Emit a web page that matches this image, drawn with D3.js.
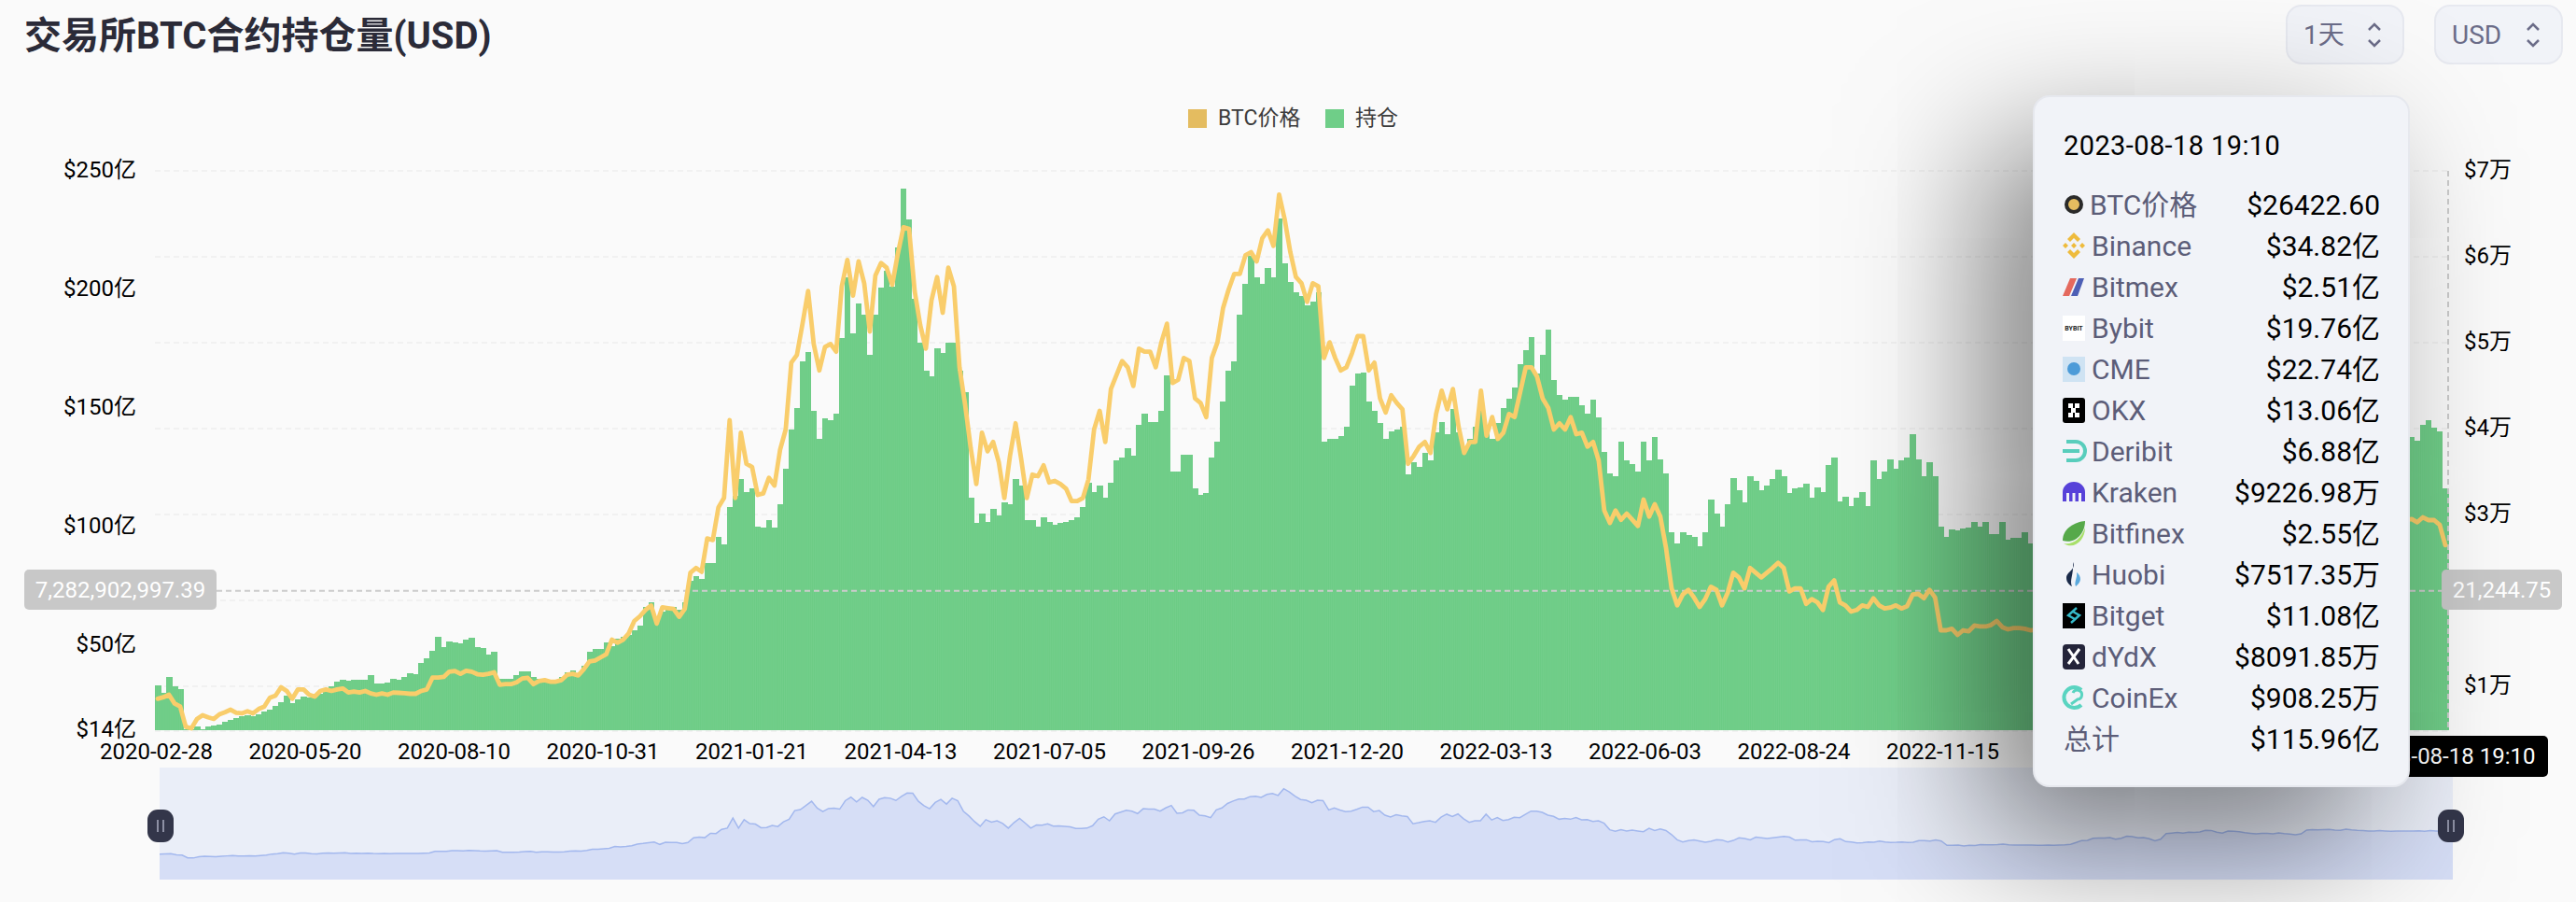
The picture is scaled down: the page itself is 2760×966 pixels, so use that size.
<!DOCTYPE html>
<html>
<head>
<meta charset="utf-8">
<script src="https://cdn.jsdelivr.net/npm/d3@7"></script>
<style>
html, body { margin: 0; padding: 0; background: #fafafa; overflow: hidden; }
#stage { position: relative; width: 2760px; height: 966px; }
svg { position: absolute; left: 0; top: 0; }
#tipbox { position: absolute; left: 2178px; top: 102px; width: 400px; height: 737px; border-radius: 18px;
  background: #f1f3f8; border: 2px solid #e6e8ee; box-shadow: -50px 55px 150px 0 rgba(0,0,0,.5); }
text { font-family: Roboto, "Noto Sans CJK SC", sans-serif; }
</style>
</head>
<body>
<div id="stage">
<svg id="chart" width="2760" height="966"></svg>
<div id="tipbox"></div>
<svg id="tip" width="2760" height="966"></svg>
</div>
<script>
// values, about one every 3 days. the stretch behind the tooltip is a guess
var openInterest = [
33,29.9,36.5,32.5,31.2,14.3,14.3,15.4,14.5,15.4,16.1,16.4,17.4,18.3,19.3,19.8,20.3,20,20.7,21.7,22.7,24.2,26,28.6,25.6,26.9,28.2,27.9,27.7,29.2,
31.2,32.5,34.5,35.1,34.9,35.4,35.4,35.1,37.1,33.8,33.8,34.2,35.8,35.4,36.5,38.2,37.8,42.4,44.3,47.6,53.5,48.9,51.3,50.9,50.5,52.2,52.9,49.2,48.7,46,
47,35.8,35.5,35.8,37.1,38.7,38.7,36.5,35.8,35.5,35.1,35.1,36.5,38.4,39.2,38.2,41,47,48.3,48.3,50.9,49.6,52.6,53.5,54.2,56.1,58.1,
66,68,60,64,66,66,65,68,77,79,78,84.4,84.4,95.5,92.3,108,113,120,114.6,115.9,100,99.5,102.8,99.5,109.3,124.4,140.8,150,169.7,173.7,
148.7,136.9,145.4,144.8,147.4,179.6,205.2,181.5,194,189.4,172.3,189.4,200.6,207.8,201.2,217.6,242.6,229.5,196,177.6,165.8,163.2,175,173,177.6,177.6,165.8,156.6,112,101.4,
105.4,102,107.4,104.7,110,109.3,119.8,117.2,102.8,102.8,100,104,102,100.8,101.4,102,102.8,104,108,118.5,114.6,117.2,112,118.5,127.7,129,
133,130,142.8,147.4,144,144,148.7,163.8,123,123,130.3,130.3,115.9,113.3,114,129,135.6,152.7,165.8,169.7,189.4,202.5,214.3,205,202.5,209,205,230,211,203,
198.6,197.3,193.4,194.7,198.6,135.6,136.9,136.9,138.2,142,159.2,164.5,165,152.7,148.7,143.5,137,140.2,140.8,142,121.8,127,125,131,127.7,139.5,144,138.9,149.4,139.5,
131.6,136.9,142,151.4,142,136.9,143.5,150,154,158.5,168.4,174.3,180,164.5,172.4,182.9,161.8,155.3,153.3,154.6,154.6,151.3,147.4,153.3,146,131.6,122.5,
121,135.6,127.7,126.4,123,135.6,127.7,137.6,128.4,122.5,97.5,92.9,97.5,96.2,95.5,91.6,97.5,111.3,105.4,100,109.3,120.5,115.2,110,121,119.2,115.2,117.2,119.8,123.8,
121,113.9,115.9,116.5,117.9,112,116.5,114.6,125.7,129,110.6,112.6,108.7,112,114.6,108.7,127.7,119.8,123,128.4,124.4,127.7,129,138.9,128.4,121,127,121,100,95.5,
98.8,98.2,99.2,99.5,102,100,101.7,96.9,96.9,102,94.2,95.1,95.1,97.5,92.9,
95,96,98,98,100,100,102,104,108,112,115,118,116,114,116,118,120,122,120,118,116,118,122,126,124,120,115,110,112,118,
125,122,120,124,128,130,128,126,130,132,128,126,122,120,118,116,118,120,118,116,120,126,132,134,130,128,130,134,136,134,132,134,136,138,136,134,
137,137.7,136,142.8,144.8,141.7,140,115.96
];
var btcPrice = [
8550,8730,9020,8000,7640,5290,5110,6200,6630,6380,6200,6740,6990,7280,6920,6850,7100,6850,7360,7640,8660,8910,9890,9460,8550,9640,9640,9020,8800,9460,
9640,9460,9640,9750,9280,9380,9280,9460,9170,9020,9170,9020,9280,9240,9200,9130,9130,9460,9640,11010,11010,11090,11700,11780,11450,11810,11700,11410,11340,11450,
11630,10180,10250,10250,10470,10910,10980,10250,10620,10720,10540,10540,10720,11340,11450,11270,11990,12900,13010,13370,13730,15430,15070,15430,16160,17610,18150,
18900,19400,17300,19200,19100,19000,18100,19000,23220,23770,23330,27210,27030,30830,31920,40980,31920,39530,35900,35540,32280,32460,34270,33370,37530,39890,47680,48580,52210,56010,
49850,46770,49490,49850,48950,56560,59640,55470,59460,56920,51300,57820,59270,58730,56740,60360,63440,63260,56010,52030,49310,54930,57640,53480,58730,56560,47140,42790,37720,33550,
39530,37350,38440,36090,31920,36810,40620,36450,31920,34640,34460,35720,33730,33910,33550,33010,31560,31560,31920,34090,39890,42070,38440,44600,46230,47860,
47140,44960,49310,48950,48950,47140,50040,52210,45320,45680,48220,47860,43510,42970,41340,48220,50040,54020,56200,58010,58010,60180,60540,59460,62170,63080,61270,67250,64340,60540,
57640,56920,54740,56920,56560,48220,50040,48220,46770,47140,48770,50760,50760,46770,47680,43510,41880,43880,42970,42240,35900,36810,37900,38440,37170,41700,44420,42240,44600,40260,
37170,38440,38440,44420,39170,41340,38800,39530,41700,41340,44240,47140,47140,46050,43510,42430,39890,40620,39890,41340,39350,39530,37900,38440,36270,30470,29020,
30470,29380,30110,29380,28660,31740,29750,31190,29750,26120,21410,19420,20690,21230,20330,19240,20150,21590,21230,19420,20870,23220,22680,21410,23770,23220,22680,23220,23770,24380,
23770,21050,21410,21410,19600,20150,19780,18880,21590,22320,19780,19420,18700,18880,19420,19240,20250,19420,19060,19170,19420,19060,19310,20690,20760,20250,21230,20330,16520,16520,
16700,15980,16520,16410,17070,16960,16960,17140,17610,16880,16630,16780,16780,16700,16520,
16600,16700,16600,16800,17000,17400,19000,20800,21000,22800,23000,23100,23400,21900,22800,24600,24200,23200,23500,22400,20500,22000,27000,27500,28000,27400,28200,28100,28500,30000,
29800,28200,27500,29300,29000,28600,27800,27300,26800,27200,27100,26800,27700,27000,26500,25900,26700,30200,30500,30400,30600,30800,30200,29900,31000,30300,29900,29800,29300,29200,29700,29400,29100,29300,29400,29200,
29350,29460,29100,29670,29350,29350,28800,26422.6
];

var tickDates = ["2020-02-28","2020-05-20","2020-08-10","2020-10-31","2021-01-21","2021-04-13","2021-07-05","2021-09-26","2021-12-20","2022-03-13","2022-06-03","2022-08-24","2022-11-15"];
var oiTicks = [14,50,100,150,200,250];
var priceTicks = [10000,30000,40000,50000,60000,70000];
var gridTicks = [10000,20000,30000,40000,50000,60000,70000];

var hoverDate = "2023-08-18 19:10";
var hoverOI = 72.8290299739;
var hoverOILabel = "7,282,902,997.39";
var hoverPrice = 21244.75;
var hoverPriceLabel = "21,244.75";

var exchanges = ["BTC价格","Binance","Bitmex","Bybit","CME","OKX","Deribit","Kraken","Bitfinex","Huobi","Bitget","dYdX","CoinEx","总计"];
var exchangeValues = ["$26422.60","$34.82亿","$2.51亿","$19.76亿","$22.74亿","$13.06亿","$6.88亿","$9226.98万","$2.55亿","$7517.35万","$11.08亿","$8091.85万","$908.25万","$115.96亿"];

var svg = d3.select("#chart");

var x = d3.scaleBand().domain(d3.range(openInterest.length)).range([166, 2623]);
var xPrice = d3.scaleLinear().domain([0, btcPrice.length - 1]).range([166 + x.bandwidth()/2, 2623 - x.bandwidth()/2]);
var xMini = d3.scaleLinear().domain([0, btcPrice.length - 1]).range([171, 2628]);
var xTicks = d3.scalePoint().domain(tickDates).range([167, 2081]);
var yOI = d3.scaleLinear().domain([14, 250]).range([782, 183]);
var yPrice = d3.scaleLinear().domain([10000, 70000]).range([735, 183]);
var yMini = d3.scaleLinear().domain([5000, 67000]).range([919, 845]);

// fine stripes, the real chart has one thin bar per day
var stripes = svg.append("defs").append("pattern").attr("id", "stripes")
	.attr("patternUnits", "userSpaceOnUse").attr("width", 1.94).attr("height", 8);
stripes.append("rect").attr("width", 1.94).attr("height", 8).attr("fill", "#6ccc85");
stripes.append("rect").attr("width", 0.2).attr("height", 8).attr("fill", "#8fd9a3");

// title
svg.append("text").attr("x", 26).attr("y", 52).attr("font-size", 40).attr("font-weight", 700).attr("fill", "#2b2b38")
	.text("交易所BTC合约持仓量(USD)");

// the two selects
var selects = [{label:"1天", x:2450, w:125}, {label:"USD", x:2609, w:136}];
selects.forEach(function(s){
	svg.append("rect").attr("x", s.x).attr("y", 6).attr("width", s.w).attr("height", 62).attr("rx", 16)
		.attr("fill", "#f1f3f8").attr("stroke", "#e7e9f0").attr("stroke-width", 2);
	svg.append("text").attr("x", s.x + 18).attr("y", 47).attr("font-size", 28).attr("fill", "#6b6c88").text(s.label);
	var cx = s.x + s.w - 31;
	svg.append("path").attr("d", "M"+(cx-6)+" 32l6-6l6 6M"+(cx-6)+" 43l6 6l6-6").attr("fill", "none")
		.attr("stroke", "#6b6c88").attr("stroke-width", 2.5);
});

// legend
[{label:"BTC价格", c:"#e4bc60", x:1273}, {label:"持仓", c:"#6fce88", x:1420}].forEach(function(l){
	svg.append("rect").attr("x", l.x).attr("y", 117).attr("width", 20).attr("height", 20).attr("fill", l.c);
	svg.append("text").attr("x", l.x + 32).attr("y", 134).attr("font-size", 23).attr("fill", "#3c3c3c").text(l.label);
});

// grid
svg.append("g").selectAll("line").data(gridTicks).enter().append("line")
	.attr("x1", 166).attr("x2", 2623)
	.attr("y1", function(d){ return yPrice(d); }).attr("y2", function(d){ return yPrice(d); })
	.attr("stroke", "#f1f1f1").attr("stroke-width", 2).attr("stroke-dasharray", "6 4");
svg.append("line").attr("x1", 166).attr("x2", 2623).attr("y1", 783).attr("y2", 783)
	.attr("stroke", "#f1f1f1").attr("stroke-width", 2).attr("stroke-dasharray", "6 4");

// bars
svg.append("g").attr("shape-rendering", "crispEdges").selectAll("rect").data(openInterest).enter().append("rect")
	.attr("x", function(d, i){ return x(i); })
	.attr("width", x.bandwidth() + 0.5)
	.attr("y", function(d){ return yOI(d); })
	.attr("height", function(d){ return yOI(14) - yOI(d); })
	.attr("fill", "url(#stripes)");

// crosshair under the price line
svg.append("line").attr("x1", 232).attr("x2", 2616).attr("y1", yOI(hoverOI)).attr("y2", yOI(hoverOI))
	.attr("stroke", "#cccccc").attr("stroke-width", 2).attr("stroke-dasharray", "6 4");
svg.append("line").attr("x1", 2623).attr("x2", 2623).attr("y1", 183).attr("y2", 782)
	.attr("stroke", "#cccccc").attr("stroke-width", 2).attr("stroke-dasharray", "6 4");

// price line
var line = d3.line().x(function(d, i){ return xPrice(i); }).y(function(d){ return yPrice(d); });
svg.append("path").datum(btcPrice).attr("d", line).attr("fill", "none")
	.attr("stroke", "#f9cd6b").attr("stroke-width", 4.8).attr("stroke-linejoin", "round").attr("stroke-linecap", "round");

// axes
var axisLeft = svg.append("g").attr("transform", "translate(146,0)")
	.call(d3.axisLeft(yOI).tickValues(oiTicks).tickSize(0).tickPadding(0).tickFormat(function(d){ return "$" + d + "亿"; }));
var axisRight = svg.append("g").attr("transform", "translate(2640,0)")
	.call(d3.axisRight(yPrice).tickValues(priceTicks).tickSize(0).tickPadding(0).tickFormat(function(d){ return "$" + (d/10000) + "万"; }));
var axisBottom = svg.append("g").attr("transform", "translate(0,782)")
	.call(d3.axisBottom(xTicks).tickSize(0).tickPadding(14));
[axisLeft, axisRight, axisBottom].forEach(function(a){
	a.select(".domain").remove();
	a.selectAll("text").attr("font-size", 24).attr("font-family", 'Roboto, "Noto Sans CJK SC", sans-serif').attr("fill", "#000");
});
axisLeft.selectAll("text").attr("dy", "0.28em");
axisRight.selectAll("text").attr("dy", "0.28em");

// hover tags
function tag(xp, w, label){
	svg.append("rect").attr("x", xp).attr("y", 610).attr("width", w).attr("height", 43).attr("rx", 5).attr("fill", "#c8c8c8");
	svg.append("text").attr("x", xp + w/2).attr("y", 640).attr("text-anchor", "middle").attr("font-size", 24)
		.attr("fill", "#fff").text(label);
}
tag(26, 206, hoverOILabel);
tag(2616, 129, hoverPriceLabel);

// slider under the chart, its shadow is the price line again
svg.append("rect").attr("x", 171).attr("y", 822).attr("width", 2457).attr("height", 120).attr("fill", "#eaeef8");
var miniArea = d3.area().x(function(d, i){ return xMini(i); }).y0(942).y1(function(d){ return yMini(d); });
var miniLine = d3.line().x(function(d, i){ return xMini(i); }).y(function(d){ return yMini(d); });
svg.append("path").datum(btcPrice).attr("d", miniArea).attr("fill", "#d6def6");
svg.append("path").datum(btcPrice).attr("d", miniLine).attr("fill", "none").attr("stroke", "#a3b8ee").attr("stroke-width", 1.5);
[172, 2626].forEach(function(h){
	svg.append("rect").attr("x", h - 14).attr("y", 867).attr("width", 28).attr("height", 35).attr("rx", 11).attr("fill", "#33364a");
	svg.append("path").attr("d", "M"+(h-3)+" 878v13M"+(h+3)+" 878v13").attr("stroke", "#8d90a4").attr("stroke-width", 2);
});

// x pointer label
svg.append("rect").attr("x", 2516).attr("y", 788).attr("width", 214).attr("height", 44).attr("rx", 5).attr("fill", "#000");
svg.append("text").attr("x", 2623).attr("y", 818).attr("text-anchor", "middle").attr("font-size", 24).attr("fill", "#fff").text(hoverDate);

// tooltip
var tip = d3.select("#tip");
tip.append("text").attr("x", 2211).attr("y", 166).attr("font-size", 29).attr("letter-spacing", 0.4).attr("fill", "#000").text(hoverDate);

var rowY = d3.scalePoint().domain(exchanges).range([219, 791]);
var rows = tip.append("g").selectAll("g").data(exchanges).enter().append("g")
	.attr("transform", function(d){ return "translate(0," + rowY(d) + ")"; });
rows.append("text").attr("x", function(d, i){ return (i == 13) ? 2211 : (i == 0 ? 2239 : 2241); }).attr("y", 11)
	.attr("font-size", 30).attr("fill", "#5c5d78").text(function(d){ return d; });
rows.append("text").attr("x", 2550).attr("y", 11).attr("text-anchor", "end")
	.attr("font-size", 30).attr("fill", "#000").text(function(d, i){ return exchangeValues[i]; });

// little logos, x 2210..2234, centred on each row
var icons = rows.append("g").attr("transform", "translate(2222,0)");
icons.each(function(d){
	var g = d3.select(this);
	if (d == "BTC价格") {
		g.append("circle").attr("r", 8).attr("fill", "#e4bc60").attr("stroke", "#2a2a2a").attr("stroke-width", 4);
	} else if (d == "Binance") {
		g.append("path").attr("d", "M0 -14L7 -7L4 -4L0 -8L-4 -4L-7 -7ZM-12 0L-9 -3L-6 0L-9 3ZM12 0L9 -3L6 0L9 3ZM0 14L7 7L4 4L0 8L-4 4L-7 7Z M0 -3L3 0L0 3L-3 0Z").attr("fill", "#eebb3d");
	} else if (d == "Bitmex") {
		g.append("path").attr("d", "M-12 10L-4 -9H3L-5 10Z").attr("fill", "#e4695e");
		g.append("path").attr("d", "M-3 10L5 -9H11L4 10Z").attr("fill", "#4d5fb5");
	} else if (d == "Bybit") {
		g.append("rect").attr("x", -12).attr("y", -13).attr("width", 24).attr("height", 27).attr("fill", "#fff");
		g.append("text").attr("x", 0).attr("y", 3).attr("text-anchor", "middle").attr("font-size", 7).attr("font-weight", 700).attr("fill", "#222").text("BYBIT");
	} else if (d == "CME") {
		g.append("rect").attr("x", -12).attr("y", -13).attr("width", 24).attr("height", 27).attr("fill", "#cfe3f3");
		g.append("circle").attr("r", 7).attr("fill", "#4c9bd8");
	} else if (d == "OKX") {
		g.append("rect").attr("x", -12).attr("y", -13).attr("width", 24).attr("height", 27).attr("rx", 3).attr("fill", "#000");
		[[-6,-7],[1,-7],[-3,-2],[-6,3],[1,3]].forEach(function(p){
			g.append("rect").attr("x", p[0]).attr("y", p[1]).attr("width", 5).attr("height", 5).attr("fill", "#fff");
		});
	} else if (d == "Deribit") {
		g.append("path").attr("d", "M-8 -10H2A10 10 0 0 1 2 10H-8M-12 0H6").attr("fill", "none").attr("stroke", "#58cdbc").attr("stroke-width", 4);
	} else if (d == "Kraken") {
		g.append("path").attr("d", "M-12 10V0A12 11 0 0 1 12 0V10H8V1H5V10H1.5V1H-1.5V10H-5V1H-8V10Z").attr("fill", "#5741d9");
	} else if (d == "Bitfinex") {
		g.append("path").attr("d", "M-12 8C-12 -6 2 -12 12 -13C12 0 2 12 -12 8Z").attr("fill", "#56a94a");
		g.append("path").attr("d", "M-11 11C-2 13 8 6 12 -6C12 8 0 18 -11 11Z").attr("fill", "#a8e06b");
	} else if (d == "Huobi") {
		g.append("path").attr("d", "M-1 -13C3 -5 -8 -3 -8 4C-8 9 -4 12 -2 13C-5 6 0 1 -1 -13Z").attr("fill", "#1b2a4a");
		g.append("path").attr("d", "M3 -2C8 2 9 8 2 13C0 8 4 4 3 -2Z").attr("fill", "#5ba9dd");
	} else if (d == "Bitget") {
		g.append("rect").attr("x", -12).attr("y", -13).attr("width", 24).attr("height", 27).attr("fill", "#000");
		g.append("path").attr("d", "M3 -8L-6 0L1 4M-3 8L6 0L-1 -4").attr("fill", "none").attr("stroke", "#36b9c9").attr("stroke-width", 2.5);
	} else if (d == "dYdX") {
		g.append("rect").attr("x", -12).attr("y", -13).attr("width", 24).attr("height", 27).attr("rx", 4).attr("fill", "#24243a");
		g.append("path").attr("d", "M-6 -8L5 8M6 -8L-6 8").attr("stroke", "#fff").attr("stroke-width", 3);
	} else if (d == "CoinEx") {
		g.append("path").attr("d", "M8 -8A11 11 0 1 0 8 8").attr("fill", "none").attr("stroke", "#5ad4c1").attr("stroke-width", 4);
		g.append("path").attr("d", "M-1 -5A5 5 0 1 1 4 2L-3 7").attr("fill", "none").attr("stroke", "#5ad4c1").attr("stroke-width", 3);
	}
});
</script>
</body>
</html>
